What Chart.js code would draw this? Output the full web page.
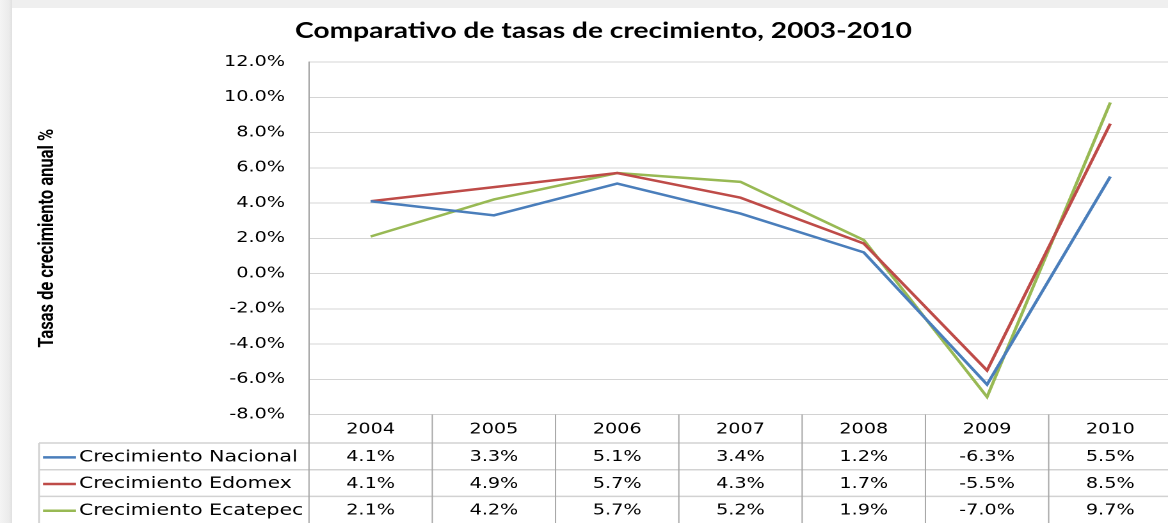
<!DOCTYPE html>
<html>
<head>
<meta charset="utf-8">
<script src="https://cdn.jsdelivr.net/npm/chart.js@4.4.1/dist/chart.umd.min.js"></script>
<style>
  html, body { margin: 0; padding: 0; width: 1168px; height: 523px; overflow: hidden; background: #efefef; }
  #shade { position: absolute; left: 0; top: 0; width: 12px; height: 523px; background: linear-gradient(to right, #f4f4f4, #ebebeb 75%, #e0e0e0); }
  #panel { position: absolute; left: 12px; top: 8px; right: 0; bottom: 0; background: #fff; }
  /* the source picture is stretched sideways, so the chart is too */
  #wrap { position: absolute; left: 0; top: 0; transform: scaleX(1.28); transform-origin: 0 0; }
</style>
</head>
<body>
<div id="shade"></div>
<div id="panel"></div>
<div id="wrap"><canvas id="chart" width="920" height="523"></canvas></div>
<script>
const years = ['2004', '2005', '2006', '2007', '2008', '2009', '2010'];
const nacional = [4.1, 3.3, 5.1, 3.4, 1.2, -6.3, 5.5];
const edomex = [4.1, 4.9, 5.7, 4.3, 1.7, -5.5, 8.5];
const ecatepec = [2.1, 4.2, 5.7, 5.2, 1.9, -7.0, 9.7];
const seriesNames = ['Crecimiento Nacional', 'Crecimiento Edomex', 'Crecimiento Ecatepec'];
const seriesColors = ['#4a7ebb', '#be4b48', '#98b954'];
const yTicks = [-8, -6, -4, -2, 0, 2, 4, 6, 8, 10, 12];

const seriesValues = [nacional, edomex, ecatepec];

function pct(v) {
    return v.toFixed(1) + '%';
}

// data table under the plot, columns follow the x scale
const dataTable = {
    id: 'dataTable',
    afterDraw(chart) {
        const ctx = chart.ctx;
        const area = chart.chartArea;
        const xs = chart.scales.x;
        const top = area.bottom;
        const bottom = chart.height;
        const headerH = 28.5;
        const rowH = 26.7;
        const labelLeft = 30.5;
        const half = (xs.getPixelForValue(1) - xs.getPixelForValue(0)) / 2;

        function line(x1, y1, x2, y2) {
            ctx.beginPath();
            ctx.moveTo(x1, y1);
            ctx.lineTo(x2, y2);
            ctx.stroke();
        }

        ctx.save();
        ctx.strokeStyle = '#d2d2d2';
        ctx.lineWidth = 1.5;
        for (let r = 0; r < seriesNames.length; r++) {
            const y = top + headerH + r * rowH;
            line(labelLeft, y, chart.width, y);
        }
        line(labelLeft, top + headerH, labelLeft, bottom);

        ctx.strokeStyle = '#a6a6a6';
        ctx.lineWidth = 1;
        line(area.left, area.top, area.left, bottom);
        years.forEach((yr, i) => {
            const xx = xs.getPixelForValue(i) + half;
            line(xx, top, xx, bottom);
        });

        ctx.fillStyle = '#000';
        ctx.textBaseline = 'middle';
        ctx.textAlign = 'center';
        ctx.font = '15px "DejaVu Sans"';
        years.forEach((yr, i) => ctx.fillText(yr, xs.getPixelForValue(i), top + headerH / 2 + 1));

        seriesValues.forEach((vals, r) => {
            const cy = top + headerH + r * rowH + rowH / 2 + 1;
            ctx.textAlign = 'center';
            ctx.font = '15px "DejaVu Sans"';
            vals.forEach((v, i) => ctx.fillText(pct(v), xs.getPixelForValue(i), cy));

            ctx.strokeStyle = seriesColors[r];
            ctx.lineWidth = 2.5;
            line(33.6, cy, 59.4, cy);
            ctx.textAlign = 'left';
            ctx.font = '16px "DejaVu Sans"';
            ctx.fillText(seriesNames[r], 61.7, cy);
        });
        ctx.restore();
    }
};

new Chart(document.getElementById('chart'), {
    type: 'line',
    data: {
        labels: years,
        datasets: seriesValues.map((vals, i) => ({
            label: seriesNames[i],
            data: vals,
            borderColor: seriesColors[i],
            backgroundColor: seriesColors[i],
            borderWidth: 2.5,
            pointRadius: 0,
            tension: 0
        }))
    },
    plugins: [dataTable],
    options: {
        responsive: false,
        animation: false,
        devicePixelRatio: 2,
        layout: { padding: { left: 27.3, right: 4.4, top: 8, bottom: 0 } },
        plugins: {
            legend: { display: false },
            tooltip: { enabled: false },
            title: {
                display: true,
                text: 'Comparativo de tasas de crecimiento, 2003-2010',
                color: '#000',
                font: { family: 'Lato', size: 22, weight: 'bold', lineHeight: 1.2 },
                padding: { top: 9.8, bottom: 17.8 }
            }
        },
        scales: {
            x: {
                offset: true,
                grid: { display: false },
                border: { display: true, color: '#d2d2d2' },
                ticks: { display: false },
                afterFit(scale) { scale.height = 108.5; }
            },
            y: {
                min: -8,
                max: 12,
                afterBuildTicks(scale) { scale.ticks = yTicks.map(v => ({ value: v })); },
                grid: { color: '#d4d4d4', lineWidth: 1, drawTicks: false },
                border: { color: '#a6a6a6' },
                ticks: {
                    padding: 18.7,
                    color: '#000',
                    font: { family: 'DejaVu Sans', size: 15 },
                    callback: v => pct(v)
                },
                title: {
                    display: true,
                    text: 'Tasas de crecimiento anual %',
                    color: '#000',
                    padding: 0,
                    font: { family: 'Roboto', size: 16.5, weight: 'bold', lineHeight: 1.2 }
                },
                afterFit(scale) { scale.width = 241.4 - 27.3; }
            }
        }
    }
});
</script>
</body>
</html>
